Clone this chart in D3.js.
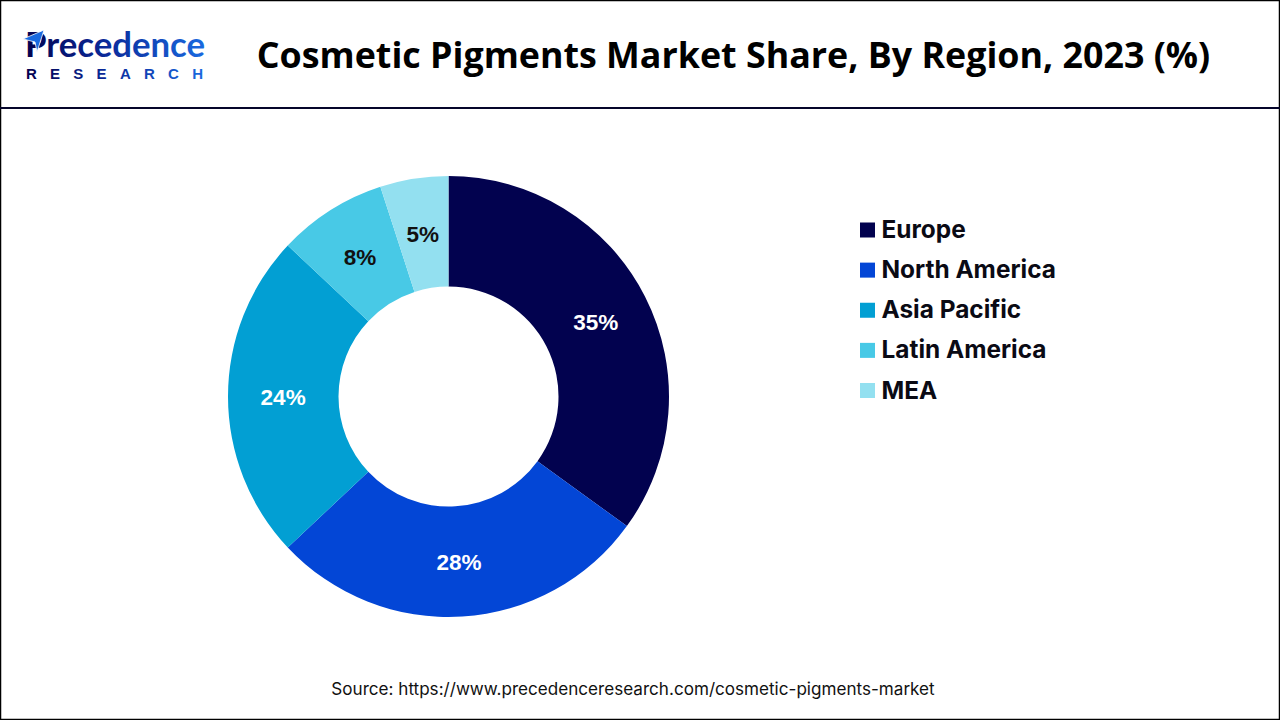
<!DOCTYPE html>
<html><head><meta charset="utf-8">
<script src="https://cdn.jsdelivr.net/npm/d3@7"></script>
<style>html,body{margin:0;padding:0;background:#fff;overflow:hidden}svg{display:block}</style>
</head><body><svg id="c" width="1280" height="720"></svg>
<script>
const regions = ["Europe","North America","Asia Pacific","Latin America","MEA"];
const shares = [35,28,24,8,5];
const labels = ["35%","28%","24%","8%","5%"];
const colors = ["#02024f","#0346d6","#029fd3","#48c9e6","#93e0f0"];
const labelColors = ["#fff","#fff","#fff","#111","#111"];
const titleText = "Cosmetic Pigments Market Share, By Region, 2023 (%)";
const sourceText = "Source: https://www.precedenceresearch.com/cosmetic-pigments-market";

const svg = d3.select("#c");
svg.append("rect").attr("x",0.5).attr("y",0.5).attr("width",1279).attr("height",719).attr("fill","#fff").attr("stroke","#000").attr("stroke-width",1.5);
svg.append("line").attr("x1",0).attr("x2",1280).attr("y1",108).attr("y2",108).attr("stroke","#05052a").attr("stroke-width",2);

// logo
const grad = svg.append("defs").append("linearGradient").attr("id","lg")
  .attr("gradientUnits","userSpaceOnUse").attr("x1",25).attr("x2",205).attr("y1",0).attr("y2",0);
grad.append("stop").attr("offset","0").attr("stop-color","#02024f");
grad.append("stop").attr("offset","0.45").attr("stop-color","#0a2a9a");
grad.append("stop").attr("offset","1").attr("stop-color","#1a6ae0");
const logo = svg.append("g");
logo.append("text").attr("x",25).attr("y",57).attr("font-family","Lato,sans-serif").attr("font-weight",700).attr("font-size",35)
  .attr("textLength",180).attr("lengthAdjust","spacingAndGlyphs").attr("fill","url(#lg)").text("Precedence");
logo.append("text").attr("x",26).attr("y",78.5).attr("font-family","'Liberation Sans',sans-serif").attr("font-weight",700).attr("font-size",15)
  .attr("textLength",177).attr("fill","url(#lg)").text("RESEARCH");
logo.append("path").attr("d","M23 39 L44 30 L37 52 L35 42 Z").attr("fill","#1a6ae0").attr("stroke","#fff").attr("stroke-width",0.8);

svg.append("text").attr("x",733.5).attr("y",68).attr("text-anchor","middle").attr("font-family","'Open Sans',sans-serif").attr("font-weight",700).attr("font-size",35.8).attr("fill","#000").text(titleText);

// donut
const cx=448.5, cy=396.5, R=220.5, r=110;
const pie = d3.pie().sort(null)(shares);
const arc = d3.arc().innerRadius(r).outerRadius(R);
const g = svg.append("g").attr("transform",`translate(${cx},${cy})`);
g.selectAll("path").data(pie).join("path").attr("d",arc).attr("fill",(d,i)=>colors[i]);
const labelArc = d3.arc().innerRadius(R*0.75).outerRadius(R*0.75);
g.selectAll("text").data(pie).join("text")
 .attr("x",d=>labelArc.centroid(d)[0]).attr("y",d=>labelArc.centroid(d)[1]+8.5)
 .attr("text-anchor","middle").attr("font-family","'Liberation Sans',Arial,sans-serif").attr("font-weight",700).attr("font-size",22.5)
 .attr("fill",(d,i)=>labelColors[i]).text((d,i)=>labels[i]);

// legend
const ly = d3.scalePoint().domain(regions).range([230,390.5]);
const lg = svg.append("g");
lg.selectAll("rect").data(regions).join("rect").attr("x",860).attr("y",d=>ly(d)-7.5).attr("width",15).attr("height",15).attr("fill",(d,i)=>colors[i]);
lg.selectAll("text").data(regions).join("text").attr("x",881.5).attr("y",d=>ly(d)+8).attr("font-family","Inter,sans-serif").attr("font-weight",700).attr("font-size",24.4).attr("fill","#0a0a14").text(d=>d);

svg.append("text").attr("x",633).attr("y",695).attr("text-anchor","middle").attr("font-family","Inter,sans-serif").attr("font-size",17.1).attr("fill","#111").text(sourceText);
</script></body></html>
